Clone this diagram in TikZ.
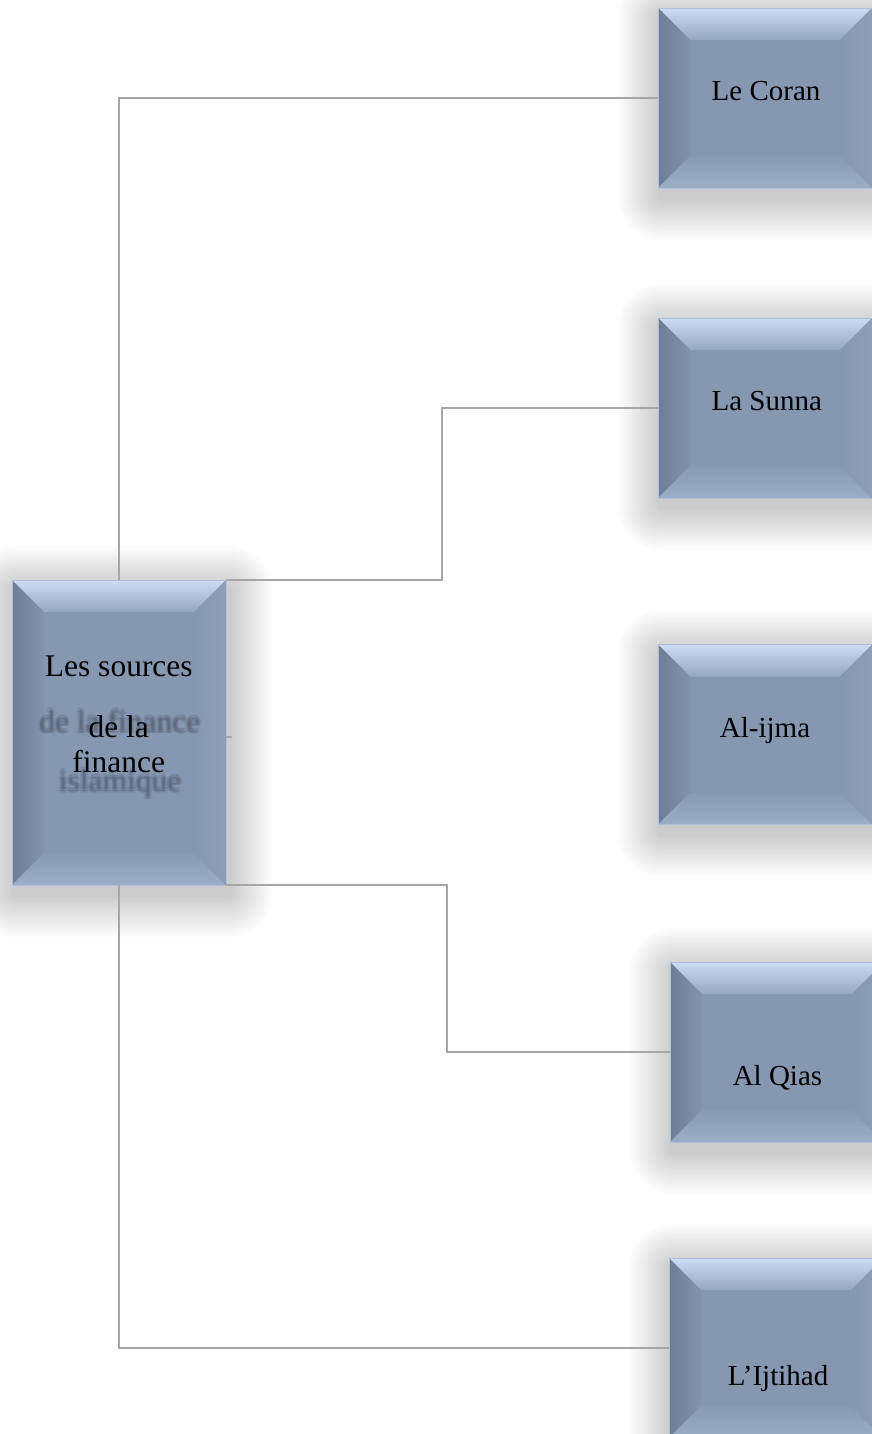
\documentclass[tikz,border=0pt]{standalone}
\usepackage{fontspec}
\setmainfont{Liberation Serif}
\usetikzlibrary{calc}

\definecolor{face}{RGB}{134,151,177}
\definecolor{bevtop}{RGB}{204,220,243}
\definecolor{bevleft}{RGB}{110,125,151}
\definecolor{bevright}{RGB}{142,158,184}
\definecolor{bevbottom}{RGB}{156,173,200}
\definecolor{rim}{RGB}{176,192,216}
\definecolor{wire}{RGB}{166,166,166}
\definecolor{ghostink}{RGB}{60,68,85}

\pgfdeclarelayer{backdrop}
\pgfsetlayers{backdrop,main}

\tikzset{
  x=1pt, y=-1pt,
  bevelbox/.style={rectangle, inner sep=0pt, minimum width=214pt, minimum height=#1,
    fill=face, draw=rim, line width=0.8pt,
    path picture={
      \coordinate (pnw) at (path picture bounding box.north west);
      \coordinate (pne) at (path picture bounding box.north east);
      \coordinate (psw) at (path picture bounding box.south west);
      \coordinate (pse) at (path picture bounding box.south east);
      % top bevel
      \shade[top color=bevtop, bottom color=face!78!bevtop]
        (pnw) -- (pne) -- ($(pne)+(-32pt,-32pt)$) -- ($(pnw)+(32pt,-32pt)$) -- cycle;
      % left bevel
      \shade[left color=bevleft, right color=face!85!bevleft]
        (pnw) -- ($(pnw)+(32pt,-32pt)$) -- ($(psw)+(32pt,32pt)$) -- (psw) -- cycle;
      % bottom bevel
      \shade[top color=face!90!bevbottom, bottom color=bevbottom]
        (psw) -- ($(psw)+(32pt,32pt)$) -- ($(pse)+(-32pt,32pt)$) -- (pse) -- cycle;
      % right bevel
      \shade[left color=face, right color=bevright]
        (pne) -- (pse) -- ($(pse)+(-32pt,32pt)$) -- ($(pne)+(-32pt,-32pt)$) -- cycle;
    }},
  glow/.style={fill=black, fill opacity=0.0105},
  lbl/.style={font=\fontsize{29}{34}\selectfont, anchor=base, inner sep=0pt, text=black},
  biglbl/.style={font=\fontsize{31.5}{36}\selectfont, anchor=base, inner sep=0pt, text=black},
  ghost/.style={font=\fontsize{31.5}{36}\selectfont, anchor=base, inner sep=0pt,
                text=ghostink, text opacity=0.075},
  wireline/.style={draw=wire, line width=1.9pt},
}

\begin{document}
\begin{tikzpicture}
  \useasboundingbox (0,0) rectangle (872,1434);

  % source box and the five sources
  \node[bevelbox=305pt] (src)      at (119,732.5) {};
  \node[bevelbox=180pt] (coran)    at (765,98)    {};
  \node[bevelbox=180pt] (sunna)    at (765,408)   {};
  \node[bevelbox=180pt] (ijma)     at (765,734.5) {};
  \node[bevelbox=180pt] (qias)     at (777,1052)  {};
  \node[bevelbox=180pt] (ijtihad)  at (776,1348)  {};

  % paper and soft shadows behind the boxes
  \begin{pgfonlayer}{backdrop}
    \fill[white] (0,0) rectangle (872,1434);
    \foreach \b in {src,coran,sunna,ijma,qias,ijtihad} {
      \foreach \r in {2.5,5,...,42.5} {
        \fill[glow, rounded corners=\r pt]
          ($(\b.north west)+(-\r pt,\r pt)+(3pt,-9pt)$) rectangle
          ($(\b.south east)+(\r pt,-\r pt)+(3pt,-9pt)$);
      }
    }
  \end{pgfonlayer}

  % blurred background title
  \foreach \dx/\dy [count=\k] in {1.5/0,-1.5/0,0/1.5,0/-1.5,1.1/1.1,-1.1/-1.1,1.1/-1.1,-1.1/1.1,
                                  2.8/0,-2.8/0,0/2.8,0/-2.8,0/0} {
    \node[ghost] (gA\k) at (119.8+\dx,732+\dy) {de la finance};
    \node[ghost] (gB\k) at (120+\dx,791+\dy) {islamique};
  }

  % titles
  \node[biglbl] (tsrc1) at (118.8,676) {Les sources};
  \node[biglbl] (tsrc2) at (118.8,737) {de la};
  \node[biglbl] (tsrc3) at (118.8,772) {finance};

  \node[lbl] (tcoran)   at (766,101)    {Le Coran};
  \node[lbl] (tsunna)   at (766.7,410)  {La Sunna};
  \node[lbl] (tijma)    at (765,737)    {Al-ijma};
  \node[lbl] (tqias)    at (777.5,1085) {Al Qias};
  \node[lbl] (tijtihad) at (778,1385)   {L’Ijtihad};

  % connectors
  \draw[wireline] (src.north) |- (coran.west);
  \draw[wireline] (src.north east) -- ++(216,0) coordinate (sunnabend) |- (sunna.west);
  \draw[wireline] (src.east) ++(0,4.5) coordinate (ijmafrom) -- ++(6,0) coordinate (ijmastub);
  \draw[wireline] (src.south east) -- ++(221,0) coordinate (qiasbend) |- (qias.west);
  \draw[wireline] (src.south) |- (ijtihad.west);
\end{tikzpicture}
\end{document}
